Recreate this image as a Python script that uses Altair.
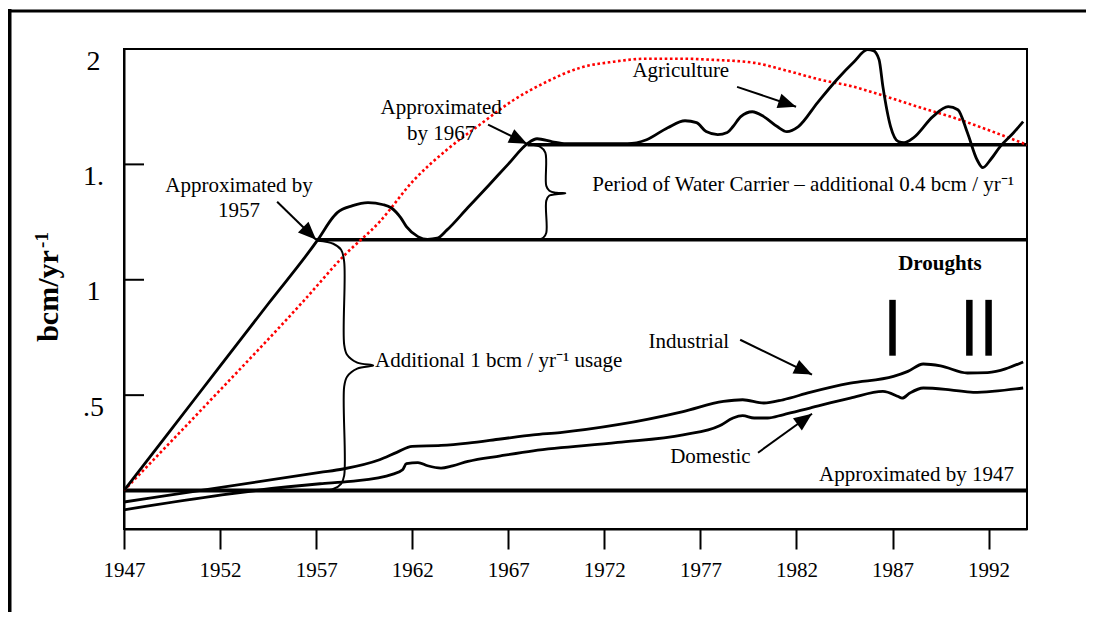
import math
import altair as alt
import pandas as pd

# ---------------- data ----------------
agri = [(1947.0, 0.087), (1949.5, 0.356), (1952.0, 0.626), (1954.5, 0.895), (1957.1, 1.175),
        (1957.9, 1.273), (1958.1, 1.291), (1958.9, 1.321),
        (1959.7, 1.334), (1960.5, 1.325), (1960.9, 1.312), (1961.4, 1.269), (1961.7, 1.230),
        (1962.3, 1.187), (1962.8, 1.175), (1963.3, 1.180), (1963.8, 1.215), (1964.9, 1.313),
        (1966.0, 1.411), (1967.0, 1.501), (1968.0, 1.590),
        (1968.5, 1.611), (1969.3, 1.598), (1970.0, 1.590), (1973.2, 1.590), (1974.2, 1.607),
        (1975.3, 1.659), (1976.2, 1.689), (1976.8, 1.681), (1977.3, 1.642), (1977.9, 1.629),
        (1978.4, 1.638), (1978.7, 1.664), (1979.1, 1.707), (1979.7, 1.728), (1980.3, 1.707),
        (1981.0, 1.664), (1981.5, 1.642), (1982.1, 1.664), (1983.1, 1.768), (1984.1, 1.867),
        (1985.0, 1.945), (1985.7, 1.997), (1986.0, 1.993), (1986.3, 1.954), (1986.5, 1.837),
        (1986.9, 1.664), (1987.3, 1.599), (1987.6, 1.594), (1988.1, 1.616), (1989.1, 1.707),
        (1989.9, 1.750), (1990.4, 1.737), (1990.9, 1.637), (1991.4, 1.520), (1991.7, 1.486),
        (1992.1, 1.520), (1992.6, 1.577), (1993.3, 1.637), (1993.8, 1.685)]

trend = [(1947.0, 0.087), (1951.5, 0.478), (1956.4, 0.913), (1958.4, 1.100), (1960.3, 1.251),
         (1962.1, 1.433), (1963.8, 1.563), (1965.5, 1.671), (1967.3, 1.780), (1969.0, 1.858),
         (1970.75, 1.919), (1972.5, 1.945), (1974.2, 1.958), (1976.0, 1.958), (1977.7, 1.953),
         (1979.8, 1.940), (1981.5, 1.906), (1983.25, 1.867), (1985.0, 1.836), (1986.7, 1.793),
         (1988.5, 1.745), (1990.2, 1.702), (1991.95, 1.650), (1994.0, 1.585)]

industrial = [(1947.0, 0.037), (1957.2, 0.165), (1958.4, 0.180), (1960.3, 0.220), (1961.2, 0.252),
              (1962.0, 0.278), (1963.5, 0.282), (1964.9, 0.292), (1966.6, 0.310), (1968.3, 0.328),
              (1969.7, 0.338), (1972.7, 0.372), (1976.1, 0.429), (1978.2, 0.473), (1979.2, 0.480),
              (1980.3, 0.466), (1981.3, 0.480), (1982.7, 0.512), (1984.8, 0.552), (1987.05, 0.581),
              (1987.8, 0.603), (1988.6, 0.635), (1989.5, 0.627), (1990.9, 0.596), (1991.95, 0.598),
              (1993.8, 0.644)]

domestic = [(1947.0, 0.003), (1957.2, 0.116), (1958.8, 0.126), (1961.0, 0.158), (1961.5, 0.177),
            (1961.7, 0.203), (1962.3, 0.208), (1962.8, 0.194), (1963.5, 0.184), (1964.1, 0.194),
            (1964.9, 0.213), (1966.6, 0.237), (1968.3, 0.259), (1972.7, 0.295), (1976.1, 0.328),
            (1978.0, 0.367), (1978.7, 0.401), (1979.2, 0.411), (1979.8, 0.401), (1980.5, 0.401),
            (1981.3, 0.415), (1982.7, 0.444), (1984.8, 0.487), (1986.5, 0.516), (1987.3, 0.494),
            (1987.5, 0.487), (1987.9, 0.509), (1988.6, 0.531), (1990.0, 0.523), (1991.2, 0.512),
            (1993.8, 0.531)]

# supply levels: (from year, to year, level)
levels = [(1947.0, 1994.0, 0.087), (1957.0, 1994.0, 1.1735), (1968.0, 1994.0, 1.585)]
level_widths = [4, 3.5, 3.5]

drought_years = [1987.0, 1991.0, 1992.0]
drought_low, drought_high = 0.671, 0.913

brace_1957 = [(1957.10, 1.169), (1957.89, 1.156), (1958.30, 1.130), (1958.46, 1.078),
              (1958.46, 0.719), (1958.61, 0.675), (1959.14, 0.641), (1959.97, 0.628),
              (1959.14, 0.615), (1958.61, 0.580), (1958.46, 0.537), (1958.46, 0.151),
              (1958.30, 0.116), (1957.89, 0.094), (1957.21, 0.090)]
brace_1967 = [(1968.15, 1.585), (1968.67, 1.576), (1968.93, 1.551), (1968.98, 1.407),
              (1969.14, 1.386), (1969.50, 1.377), (1969.97, 1.375), (1969.50, 1.371),
              (1969.14, 1.365), (1968.98, 1.343), (1968.98, 1.204), (1968.82, 1.182),
              (1968.30, 1.173)]

# arrows: (start year, start value, tip year, tip value)
arrows = [(1954.97, 1.338, 1957.0, 1.1735), (1965.95, 1.672, 1967.98, 1.589),
          (1978.91, 1.836, 1981.98, 1.750), (1979.07, 0.740, 1982.81, 0.589),
          (1980.0, 0.2505, 1982.81, 0.4195)]

# annotations: (year, value, text, align)
notes = [(1952.99, 1.380, "Approximated by", "center"),
         (1952.99, 1.271, "1957", "center"),
         (1963.51, 1.7195, "Approximated", "center"),
         (1963.51, 1.606, "by 1967", "center"),
         (1975.98, 1.878, "Agriculture", "center"),
         (1971.375, 1.384, "Period of Water Carrier \u2013 additional 0.4 bcm / yr\u207b\u00b9", "left"),
         (1976.40, 0.7055, "Industrial", "center"),
         (1977.52, 0.205, "Domestic", "center"),
         (1960.07, 0.623, "Additional 1 bcm / yr\u207b\u00b9 usage", "left"),
         (1988.25, 0.129, "Approximated by 1947", "center")]
bold_notes = [(1989.47, 1.0435, "Droughts")]

x_ticks = [1947, 1952, 1957, 1962, 1967, 1972, 1977, 1982, 1987, 1992]
y_ticks = [0.5, 1.0, 1.5, 2.0]
y_title, y_title_sup = "bcm/yr", "-1"

# ---------------- layout ----------------
W, H = 903, 480
XDOM, YDOM = [1947, 1994], [-0.08, 2.0]
PXX = W / (XDOM[1] - XDOM[0])
PXY = H / (YDOM[1] - YDOM[0])
FONT = "Liberation Serif"

xscale = alt.Scale(domain=XDOM, nice=False, zero=False)
yscale = alt.Scale(domain=YDOM, nice=False, zero=False)
xaxis = alt.Axis(values=x_ticks, format="d", grid=False, tickSize=20, tickWidth=2,
                 tickColor="black", domainColor="black", domainWidth=2,
                 labelFont=FONT, labelFontSize=21, labelColor="black", labelPadding=10,
                 labelFlush=False, title=None)
yaxis = alt.Axis(values=y_ticks, grid=False, tickSize=0, tickWidth=0,
                 domainColor="black", domainWidth=2,
                 labelFont=FONT, labelFontSize=28, labelColor="black", labelAlign="center",
                 labelBaseline="middle", labelPadding=31, labelOffset=12,
                 labelExpr="datum.value == 0.5 ? '.5' : datum.value == 1.5 ? '1.' : datum.value == 1 ? '1' : '2'",
                 title=None)


def X(f):
    return alt.X(f, type="quantitative", scale=xscale, axis=xaxis)


def Y(f):
    return alt.Y(f, type="quantitative", scale=yscale, axis=yaxis)


def series_df(pts, name):
    return pd.DataFrame({"year": [p[0] for p in pts], "value": [p[1] for p in pts],
                         "series": name, "order": list(range(len(pts)))})


layers = []

# level lines
lev_df = pd.DataFrame({"y0": [l[0] for l in levels], "y1": [l[1] for l in levels],
                       "v": [l[2] for l in levels], "w": level_widths})
layers.append(alt.Chart(lev_df).mark_rule(color="black").encode(
    x=X("y0"), x2="y1", y=Y("v"), strokeWidth=alt.StrokeWidth("w:Q", scale=None)))

# red dotted trend
layers.append(alt.Chart(series_df(trend, "trend")).mark_line(
    color="#ff0000", strokeWidth=2.6, strokeDash=[2.6, 2.6], interpolate="monotone").encode(
    x=X("year"), y=Y("value")))

# black curves
for pts, nm in [(agri, "Agriculture"), (industrial, "Industrial"), (domestic, "Domestic")]:
    layers.append(alt.Chart(series_df(pts, nm)).mark_line(
        color="black", strokeWidth=2.8, interpolate="monotone").encode(
        x=X("year"), y=Y("value")))

# braces
for pts, nm in [(brace_1957, "b57"), (brace_1967, "b67")]:
    layers.append(alt.Chart(series_df(pts, nm)).mark_line(
        color="black", strokeWidth=2, interpolate="catmull-rom").encode(
        x=X("year"), y=Y("value"), order="order:Q"))

# drought bars
dr_df = pd.DataFrame({"year": drought_years, "lo": drought_low, "hi": drought_high})
layers.append(alt.Chart(dr_df).mark_rule(color="black", strokeWidth=6.5).encode(
    x=X("year"), y=Y("lo"), y2="hi"))

# arrows
ar_df = pd.DataFrame({"x0": [a[0] for a in arrows], "v0": [a[1] for a in arrows],
                      "x1": [a[2] for a in arrows], "v1": [a[3] for a in arrows]})
ar_df["angle"] = [
    (math.degrees(math.atan2((a[2] - a[0]) * PXX, (a[3] - a[1]) * PXY)) + 360) % 360
    for a in arrows]
layers.append(alt.Chart(ar_df).mark_rule(color="black", strokeWidth=2).encode(
    x=X("x0"), y=Y("v0"), x2="x1", y2="v1"))
layers.append(alt.Chart(ar_df).mark_point(
    shape="M0,0L0.42,1L-0.42,1Z", filled=True, color="black", opacity=1, size=1296,
    strokeWidth=0).encode(
    x=X("x1"), y=Y("v1"), angle=alt.Angle("angle:Q", scale=None)))

# annotations
nt_df = pd.DataFrame({"year": [n[0] for n in notes], "value": [n[1] for n in notes],
                      "text": [n[2] for n in notes], "align": [n[3] for n in notes]})
for al in ["center", "left"]:
    sub = nt_df[nt_df["align"] == al]
    layers.append(alt.Chart(sub).mark_text(
        font=FONT, fontSize=21, color="black", align=al, baseline="alphabetic").encode(
        x=X("year"), y=Y("value"), text="text:N"))
bn_df = pd.DataFrame({"year": [n[0] for n in bold_notes], "value": [n[1] for n in bold_notes],
                      "text": [n[2] for n in bold_notes]})
layers.append(alt.Chart(bn_df).mark_text(
    font=FONT, fontSize=21, fontWeight="bold", color="black", align="center",
    baseline="alphabetic").encode(x=X("year"), y=Y("value"), text="text:N"))

# inward y ticks
yt_df = pd.DataFrame({"v": y_ticks})
layers.append(alt.Chart(yt_df).mark_rule(color="black", strokeWidth=2).encode(
    x=alt.value(0), x2=alt.value(20), y=Y("v")))

# y axis title (rotated), with superscript
tt_df = pd.DataFrame({"t": [y_title]})
layers.append(alt.Chart(tt_df).mark_text(
    font=FONT, fontSize=30, fontWeight="bold", color="black", angle=270,
    align="center", baseline="alphabetic").encode(
    x=alt.value(-66.5), y=alt.value(247), text="t:N"))
ts_df = pd.DataFrame({"t": [y_title_sup]})
layers.append(alt.Chart(ts_df).mark_text(
    font=FONT, fontSize=19, fontWeight="bold", color="black", angle=270,
    align="center", baseline="alphabetic").encode(
    x=alt.value(-76.5), y=alt.value(191), text="t:N"))

# outer frame
frame_df = pd.DataFrame({"k": [0]})
layers.append(alt.Chart(frame_df).mark_rule(color="black", strokeWidth=4).encode(
    x=alt.value(-114.5), y=alt.value(-40), y2=alt.value(600)))
layers.append(alt.Chart(frame_df).mark_rule(color="black", strokeWidth=3).encode(
    x=alt.value(-116.5), x2=alt.value(1000), y=alt.value(-38)))

chart = alt.layer(*layers).properties(
    width=W, height=H,
    autosize=alt.AutoSizeParams(type="none"),
    padding={"left": 116, "top": 41, "right": 59, "bottom": 83},
    background="white",
).configure_view(stroke="black", strokeWidth=2)

chart.save("out.html", embed_options={"renderer": "svg", "actions": False})
